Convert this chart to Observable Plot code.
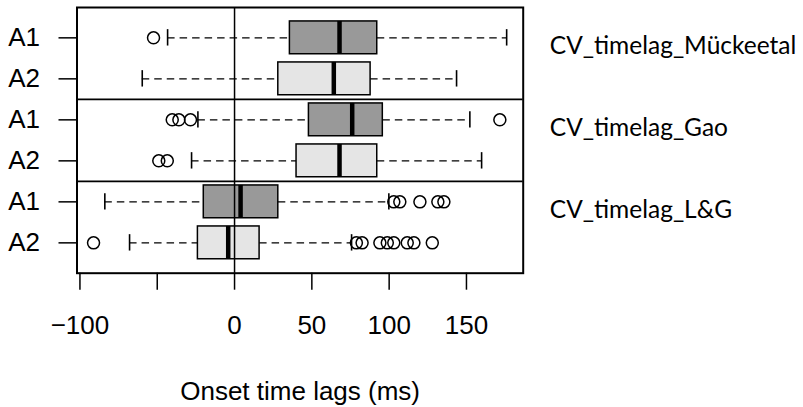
<!DOCTYPE html>
<html>
<head>
<meta charset="utf-8">
<script src="https://cdn.jsdelivr.net/npm/d3@7"></script>
<script src="https://cdn.jsdelivr.net/npm/@observablehq/plot@0.6"></script>
<style>
  html, body { margin: 0; padding: 0; background: #fff; }
</style>
</head>
<body>
<div id="chart"></div>
<script>
// ---- data ----
const rowLabels   = ["A1", "A2", "A1", "A2", "A1", "A2"];
const groupLabels = ["CV_timelag_Mückeetal", "CV_timelag_Gao", "CV_timelag_L&G"];
const rowKind     = ["A1", "A2", "A1", "A2", "A1", "A2"];
const whiskerLow  = [-43.3, -59.7, -23.7, -27.8, -83.9, -67.9];
const q1          = [35.8, 28.3, 48.1, 40.1, -19.9, -23.7];
const medians     = [67.9, 64.2, 76.1, 67.9, 3.9, -4.1];
const q3          = [92.3, 88.0, 95.9, 92.3, 28.3, 16.2];
const whiskerHigh = [176.0, 143.6, 152.2, 159.8, 99.8, 75.7];
const outliers    = [
  [-52.4],
  [],
  [-40.3, -36.0, -28.5, 171.6],
  [-49.0, -43.5],
  [103.0, 106.9, 119.9, 131.5, 135.4],
  [-91.2, 78.8, 82.5, 94.0, 98.8, 103.0, 111.7, 116.0, 127.9]
];
const xTicks      = [-100, -50, 0, 50, 100, 150];
const xTickLabels = ["−100", "", "0", "50", "100", "150"];
const xTitle      = "Onset time lags (ms)";

// ---- build tables ----
const boxes = rowLabels.map((label, i) => ({
  pos: i + 1, label, kind: rowKind[i],
  lo: whiskerLow[i], q1: q1[i], med: medians[i], q3: q3[i], hi: whiskerHigh[i]
}));
const outPts = outliers.flatMap((vals, i) => vals.map(v => ({pos: i + 1, value: v})));
const groups = groupLabels.map((name, g) => ({name, pos: g * 2 + 1}));
const dividers = groupLabels.slice(1).map((_, g) => (g + 1) * 2 + 0.5);

const fillFor = k => k === "A1" ? "#999999" : "#e5e5e5";
const dash = "7.5,5";

const chart = Plot.plot({
  width: 803,
  height: 407,
  marginLeft: 76.5,
  marginRight: 280.3,
  marginTop: 7,
  marginBottom: 134.3,
  style: {fontFamily: "'Liberation Sans', Arial, sans-serif", fontSize: "26px", color: "#000", background: "#fff"},
  x: {domain: [-101.9, 186.7]},
  y: {domain: [0.26, 6.74], reverse: true},
  marks: [
    // whiskers (dashed)
    Plot.ruleY(boxes, {y: "pos", x1: "lo", x2: "q1", stroke: "#000", strokeWidth: 1.4, strokeDasharray: dash}),
    Plot.ruleY(boxes, {y: "pos", x1: "q3", x2: "hi", stroke: "#000", strokeWidth: 1.4, strokeDasharray: dash}),
    // staples
    Plot.ruleX(boxes, {x: "lo", y1: d => d.pos - 0.2, y2: d => d.pos + 0.2, stroke: "#000", strokeWidth: 1.6}),
    Plot.ruleX(boxes, {x: "hi", y1: d => d.pos - 0.2, y2: d => d.pos + 0.2, stroke: "#000", strokeWidth: 1.6}),
    // boxes
    Plot.rect(boxes, {x1: "q1", x2: "q3", y1: d => d.pos - 0.4, y2: d => d.pos + 0.4,
      fill: d => fillFor(d.kind), stroke: "#000", strokeWidth: 1.5}),
    // medians
    Plot.ruleX(boxes, {x: "med", y1: d => d.pos - 0.4, y2: d => d.pos + 0.4, stroke: "#000", strokeWidth: 4.5}),
    // outliers
    Plot.dot(outPts, {x: "value", y: "pos", r: 6, stroke: "#000", fill: "none", strokeWidth: 1.5}),
    // reference line and group dividers
    Plot.ruleX([0], {stroke: "#000", strokeWidth: 1.5}),
    Plot.ruleY(dividers, {stroke: "#000", strokeWidth: 1.8}),
    Plot.frame({stroke: "#000", strokeWidth: 2}),
    // axes
    Plot.axisX({ticks: xTicks, tickFormat: v => xTickLabels[xTicks.indexOf(v)], tickSize: 17, tickPadding: 25,
      strokeWidth: 1.5, fontSize: 26, label: null}),
    Plot.axisY({ticks: rowLabels.map((_, i) => i + 1), tickFormat: v => rowLabels[v - 1], tickSize: 18, tickPadding: 19,
      strokeWidth: 1.5, fontSize: 26, label: null}),
    Plot.text([xTitle], {frameAnchor: "bottom", dy: 108, lineAnchor: "top", fontSize: 26}),
    // group labels on the right
    Plot.text(groups, {text: "name", y: "pos", frameAnchor: "right", dx: 26.6, dy: 8.5, textAnchor: "start",
      fontFamily: "Lato, 'Open Sans', sans-serif", fontSize: 24.5})
  ]
});
document.getElementById("chart").appendChild(chart);
</script>
</body>
</html>
